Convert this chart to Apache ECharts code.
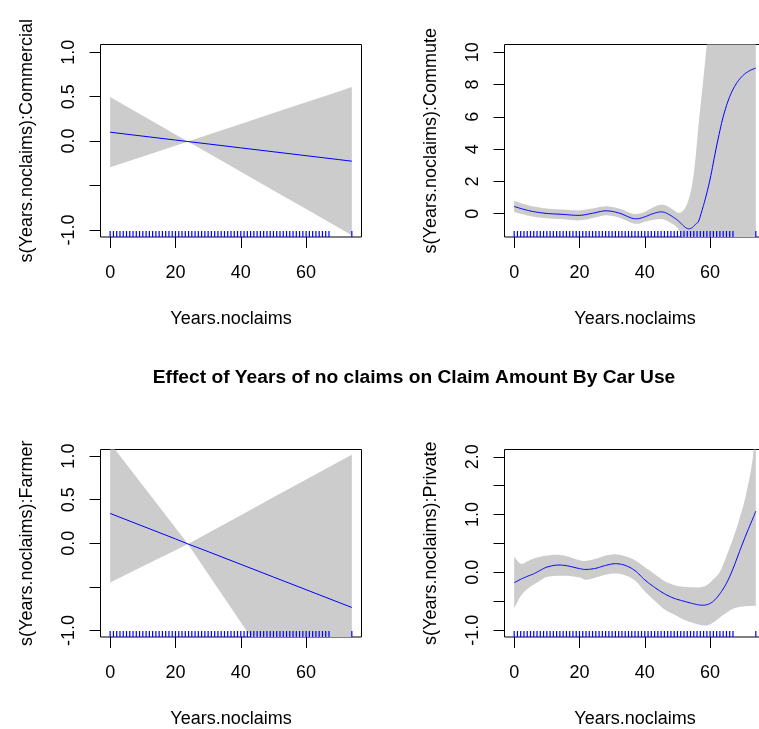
<!DOCTYPE html>
<html>
<head>
<meta charset="utf-8">
<script src="https://cdn.jsdelivr.net/npm/echarts@6/dist/echarts.min.js"></script>
<style>
html,body{margin:0;padding:0;background:#fff;overflow:hidden;}
#chart{width:790px;height:729px;}
</style>
</head>
<body>
<div id="chart"></div>
<script>
// ---------- texts ----------
const chartTitle = 'Effect of Years of no claims on Claim Amount By Car Use';
const xTitle = 'Years.noclaims';
const panelNames = ['Commercial', 'Commute', 'Farmer', 'Private'];

// ---------- ticks ----------
const xTicks = [0, 20, 40, 60];
const xDataRange = [0, 74];
const comYTicks = [-1, -0.5, 0, 0.5, 1];
const comYLabels = [-1, 0, 0.5, 1];
const cmtYTicks = [0, 2, 4, 6, 8, 10];
const cmtYLabels = [0, 2, 4, 6, 8, 10];
const farYTicks = [-1, -0.5, 0, 0.5, 1];
const farYLabels = [-1, 0, 0.5, 1];
const priYTicks = [-1, -0.5, 0, 0.5, 1, 1.5, 2];
const priYLabels = [-1, 0, 1, 2];

// ---------- rug (observed Years.noclaims values) ----------
const rugYears = [0,1,2,3,4,5,6,7,8,9,10,11,12,13,14,15,16,17,18,19,20,21,22,23,24,25,26,27,28,29,30,31,32,33,34,35,36,37,38,39,40,41,42,43,44,45,46,47,48,49,50,51,52,53,54,55,56,57,58,59,60,61,62,63,64,65,66,67,74];

// ---------- Commercial ----------
const comX     = [0, 10, 20, 23.8, 30, 40, 50, 60, 70, 74];
const comFit   = [0.10, 0.056, 0.012, -0.005, -0.032, -0.076, -0.12, -0.164, -0.208, -0.226];
const comUpper = [0.495, 0.285, 0.075, -0.005, 0.071, 0.193, 0.315, 0.437, 0.559, 0.608];
const comLower = [-0.295, -0.173, -0.051, -0.005, -0.135, -0.345, -0.555, -0.765, -0.975, -1.06];
const comYRange = [-1.079, 1.087];

// ---------- Commute ----------
const cmtX     = [0, 3, 6, 10, 15, 20, 24, 28, 32, 36, 38, 40, 42, 44, 45.5, 47, 49, 50.5, 52, 53.3, 54.5, 55.5, 56.5, 57.5, 58.5, 60, 62, 64, 66, 68, 70, 72, 74];
const cmtFit   = [0.45, 0.27, 0.13, 0.02, -0.04, -0.10, 0.03, 0.18, 0.05, -0.27, -0.30, -0.19, -0.03, 0.09, 0.11, 0.0, -0.25, -0.48, -0.78, -0.93, -0.86, -0.66, -0.45, 0.2, 0.9, 2.15, 4.2, 6.0, 7.25, 8.05, 8.55, 8.85, 9.02];
const cmtUpper = [0.80, 0.60, 0.45, 0.32, 0.26, 0.21, 0.33, 0.46, 0.33, 0.02, 0.00, 0.12, 0.34, 0.52, 0.56, 0.46, 0.20, 0.05, 0.25, 0.8, 1.8, 3.4, 5.6, 7.5, 9.5, 12.5, 16, 19.5, 22.5, 25, 27, 28.5, 30];
const cmtLower = [0.10, -0.05, -0.19, -0.28, -0.34, -0.41, -0.27, -0.10, -0.23, -0.57, -0.62, -0.50, -0.40, -0.34, -0.34, -0.46, -0.70, -1.02, -1.8, -2.7, -3.5, -4.7, -6.5, -7.1, -7.7, -8.1, -7.6, -7.5, -8.0, -8.9, -9.9, -10.8, -12.0];
const cmtYRange = [-1.44, 10.48];

// ---------- Farmer ----------
const farX     = [0, 10, 20, 23.8, 30, 40, 50, 60, 70, 74];
const farFit   = [0.342, 0.196, 0.05, -0.008, -0.096, -0.242, -0.388, -0.533, -0.679, -0.737];
const farUpper = [1.15, 0.663, 0.177, -0.008, 0.118, 0.322, 0.527, 0.731, 0.935, 1.016];
const farLower = [-0.451, -0.265, -0.079, -0.008, -0.352, -0.906, -1.46, -2.014, -2.568, -2.79];
const farYRange = [-1.076, 1.076];

// ---------- Private ----------
const priX     = [0, 2, 4, 6, 8, 10, 13, 16, 20, 22, 25, 28, 31, 34, 37, 40, 43, 46, 49, 52, 55, 57, 59, 61, 63, 65, 67, 69, 71, 73, 74];
const priFit   = [-0.18, -0.12, -0.07, -0.025, 0.035, 0.09, 0.125, 0.115, 0.065, 0.05, 0.07, 0.12, 0.15, 0.12, 0.03, -0.13, -0.26, -0.37, -0.45, -0.50, -0.545, -0.567, -0.56, -0.50, -0.37, -0.19, 0.06, 0.36, 0.65, 0.92, 1.06];
const priUpper = [0.27, 0.15, 0.19, 0.24, 0.27, 0.29, 0.305, 0.28, 0.21, 0.20, 0.235, 0.29, 0.312, 0.28, 0.21, 0.09, -0.03, -0.15, -0.22, -0.25, -0.26, -0.26, -0.22, -0.12, 0.01, 0.28, 0.58, 0.93, 1.35, 1.95, 2.65];
const priLower = [-0.62, -0.41, -0.29, -0.21, -0.14, -0.08, -0.06, -0.06, -0.09, -0.13, -0.09, -0.04, -0.02, -0.05, -0.14, -0.33, -0.49, -0.64, -0.73, -0.82, -0.88, -0.91, -0.92, -0.87, -0.78, -0.70, -0.63, -0.60, -0.585, -0.58, -0.58];
const priYRange = [-1.119, 2.126];

// ---------- build ----------
const FONT = '"Liberation Sans", Arial, Helvetica, sans-serif';
const xPad = (xDataRange[1] - xDataRange[0]) * 0.04;
const xMin = xDataRange[0] - xPad, xMax = xDataRange[1] + xPad;

const panels = [
  {name: panelNames[0], x: comX, fit: comFit, up: comUpper, lo: comLower, yr: comYRange, ticks: comYTicks, labels: comYLabels, dec: 1, smooth: false,
   grid: {left: 100.5, top: 44.5, width: 261, height: 192.5}},
  {name: panelNames[1], x: cmtX, fit: cmtFit, up: cmtUpper, lo: cmtLower, yr: cmtYRange, ticks: cmtYTicks, labels: cmtYLabels, dec: 0, smooth: true,
   grid: {left: 504.5, top: 44.5, width: 261, height: 192.5}},
  {name: panelNames[2], x: farX, fit: farFit, up: farUpper, lo: farLower, yr: farYRange, ticks: farYTicks, labels: farYLabels, dec: 1, smooth: false,
   grid: {left: 100.5, top: 449.5, width: 261, height: 190.5}},
  {name: panelNames[3], x: priX, fit: priFit, up: priUpper, lo: priLower, yr: priYRange, ticks: priYTicks, labels: priYLabels, dec: 1, smooth: true,
   grid: {left: 504.5, top: 449.5, width: 261, height: 190.5}}
];

// Catmull-Rom smoothing of screen points (used identically for band edges and fit line)
function smoothPts(pts, on) {
  if (!on || pts.length < 3) return pts;
  const out = [];
  const n = pts.length, steps = 8;
  for (let k = 0; k < n - 1; k++) {
    const p0 = pts[Math.max(k - 1, 0)], p1 = pts[k], p2 = pts[k + 1], p3 = pts[Math.min(k + 2, n - 1)];
    for (let s = 0; s < steps; s++) {
      const t = s / steps, t2 = t * t, t3 = t2 * t;
      const f = (a, b, c, d) => 0.5 * ((2 * b) + (-a + c) * t + (2 * a - 5 * b + 4 * c - d) * t2 + (-a + 3 * b - 3 * c + d) * t3);
      out.push([f(p0[0], p1[0], p2[0], p3[0]), f(p0[1], p1[1], p2[1], p3[1])]);
    }
  }
  out.push(pts[n - 1]);
  return out;
}

const textBase = {color: '#000', fontFamily: FONT, fontSize: 18};
const grids = [], xAxes = [], yAxes = [], series = [];

panels.forEach((p, i) => {
  grids.push(Object.assign({show: true, borderColor: '#000', borderWidth: 1, backgroundColor: 'transparent', containLabel: false}, p.grid));
  xAxes.push({
    gridIndex: i, type: 'value', min: xMin, max: xMax,
    splitLine: {show: false}, axisLine: {show: false, onZero: false},
    axisTick: {show: true, customValues: xTicks, length: 11, lineStyle: {color: '#000', width: 1}},
    axisLabel: Object.assign({customValues: xTicks, margin: 27}, textBase),
    name: xTitle, nameLocation: 'middle', nameGap: 73,
    nameTextStyle: Object.assign({}, textBase)
  });
  yAxes.push({
    gridIndex: i, type: 'value', min: p.yr[0], max: p.yr[1],
    splitLine: {show: false}, axisLine: {show: false, onZero: false},
    axisTick: {show: true, customValues: p.ticks, length: 11, lineStyle: {color: '#000', width: 1}},
    axisLabel: Object.assign({customValues: p.labels, rotate: 90, margin: 22,
      formatter: v => Number(v).toFixed(p.dec)}, textBase),
    name: 's(Years.noclaims):' + p.name, nameLocation: 'middle', nameGap: 64,
    nameTextStyle: Object.assign({}, textBase)
  });

  // confidence band: polygon built from upper edge then lower edge, via the axes' scales
  series.push({
    type: 'custom', xAxisIndex: i, yAxisIndex: i,
    data: [[p.x[0], p.fit[0]]],
    renderItem: (params, api) => {
      const upPts = smoothPts(p.x.map((x, k) => api.coord([x, p.up[k]])), p.smooth);
      const loPts = smoothPts(p.x.map((x, k) => api.coord([x, p.lo[k]])), p.smooth);
      const pts = upPts.concat(loPts.slice().reverse());
      const cs = params.coordSys;
      return {
        type: 'group',
        clipPath: {type: 'rect', shape: {x: cs.x, y: cs.y, width: cs.width, height: cs.height}},
        children: [{type: 'polygon', shape: {points: pts}, style: {fill: '#cccccc', stroke: null}}]
      };
    },
    silent: true, animation: false, z: 1
  });
  // fitted smooth
  series.push({
    type: 'custom', xAxisIndex: i, yAxisIndex: i,
    data: [[p.x[0], p.fit[0]]],
    renderItem: (params, api) => {
      const pts = smoothPts(p.x.map((x, k) => api.coord([x, p.fit[k]])), p.smooth);
      const cs = params.coordSys;
      return {
        type: 'group',
        clipPath: {type: 'rect', shape: {x: cs.x, y: cs.y, width: cs.width, height: cs.height}},
        children: [{type: 'polyline', shape: {points: pts}, style: {stroke: '#0000ff', lineWidth: 1, fill: null}}]
      };
    },
    silent: true, animation: false, z: 3
  });
  // rug
  const yBottom = p.yr[0];
  series.push({
    type: 'custom', xAxisIndex: i, yAxisIndex: i,
    data: rugYears.map(v => [v, yBottom]),
    renderItem: (params, api) => {
      const pt = api.coord([api.value(0), api.value(1)]);
      return {type: 'line', shape: {x1: pt[0], y1: pt[1], x2: pt[0], y2: pt[1] - 6},
              style: {stroke: '#0000ff', lineWidth: 1.2}};
    },
    silent: true, animation: false, z: 4
  });
});

const chart = echarts.init(document.getElementById('chart'), null, {renderer: 'canvas'});
chart.setOption({
  backgroundColor: '#fff',
  animation: false,
  grid: grids, xAxis: xAxes, yAxis: yAxes, series: series,
  graphic: [{
    type: 'text', x: 414, y: 378,
    style: {text: chartTitle, fill: '#000', font: 'bold 19.2px ' + FONT, textAlign: 'center', textVerticalAlign: 'middle'}
  }]
});
</script>
</body>
</html>
